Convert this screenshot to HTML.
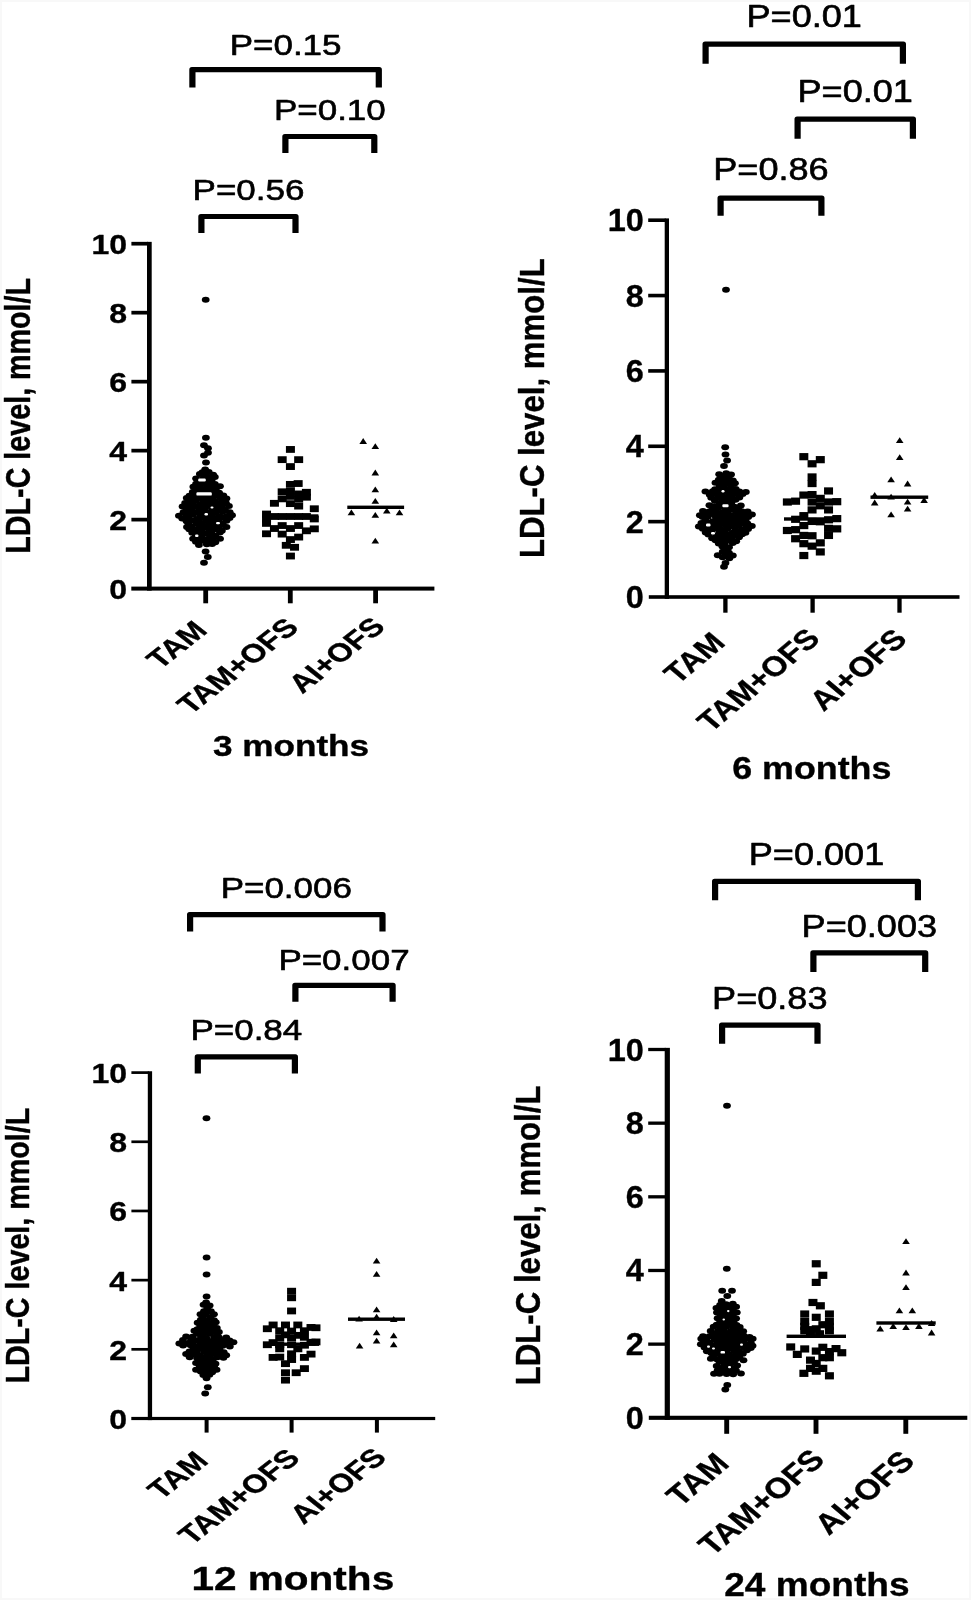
<!DOCTYPE html>
<html lang="en">
<head>
<meta charset="utf-8">
<title>LDL-C level by treatment group</title>
<style>
html,body{margin:0;padding:0;background:#fff;}
body{width:971px;height:1600px;overflow:hidden;position:relative;font-family:"Liberation Sans", sans-serif;}
svg{position:absolute;left:0;top:0;display:block;filter:blur(0.45px);}
svg text{font-family:"Liberation Sans", sans-serif;fill:#000;stroke:#000;stroke-linejoin:round;}
</style>
</head>
<body>
<svg width="971" height="1600" viewBox="0 0 971 1600" fill="#000">
<rect x="0" y="0" width="971" height="1600" fill="#fff"/>
<rect x="1" y="1" width="969" height="1598" fill="none" stroke="#f8f8f8" stroke-width="2"/>
<rect x="147" y="241.85" width="4.7" height="348.75"/>
<rect x="131.3" y="586.6" width="303.1" height="4"/>
<rect x="131.4" y="241.85" width="16.6" height="3.7"/>
<text transform="translate(127,254.2) scale(1.16,1)" font-size="27.6" font-weight="700" stroke-width="0.35" text-anchor="end">10</text>
<rect x="131.4" y="310.83" width="16.6" height="3.7"/>
<text transform="translate(127,323.18) scale(1.16,1)" font-size="27.6" font-weight="700" stroke-width="0.35" text-anchor="end">8</text>
<rect x="131.4" y="379.81" width="16.6" height="3.7"/>
<text transform="translate(127,392.16) scale(1.16,1)" font-size="27.6" font-weight="700" stroke-width="0.35" text-anchor="end">6</text>
<rect x="131.4" y="448.79" width="16.6" height="3.7"/>
<text transform="translate(127,461.14) scale(1.16,1)" font-size="27.6" font-weight="700" stroke-width="0.35" text-anchor="end">4</text>
<rect x="131.4" y="517.77" width="16.6" height="3.7"/>
<text transform="translate(127,530.12) scale(1.16,1)" font-size="27.6" font-weight="700" stroke-width="0.35" text-anchor="end">2</text>
<text transform="translate(127,599.1) scale(1.16,1)" font-size="27.6" font-weight="700" stroke-width="0.35" text-anchor="end">0</text>
<rect x="203.3" y="588.6" width="4.8" height="14.7"/>
<text transform="translate(208.8,631.8) scale(1.27,1) rotate(-45)" font-size="25.8" font-weight="700" stroke-width="0.35" text-anchor="end">TAM</text>
<rect x="287.9" y="588.6" width="4.8" height="14.7"/>
<text transform="translate(300.2,628.9) scale(1.27,1) rotate(-45)" font-size="25.8" font-weight="700" stroke-width="0.35" text-anchor="end">TAM+OFS</text>
<rect x="373.2" y="588.6" width="4.8" height="14.7"/>
<text transform="translate(386.6,628.2) scale(1.27,1) rotate(-45)" font-size="25.8" font-weight="700" stroke-width="0.35" text-anchor="end">AI+OFS</text>
<text transform="translate(29.8,415.8) scale(1.24,1) rotate(-90)" font-size="28.7" font-weight="700" stroke-width="0.35" text-anchor="middle">LDL-C level, mmol/L</text>
<text transform="translate(291,755.6) scale(1.18,1)" font-size="29.8" font-weight="700" stroke-width="0.35" text-anchor="middle">3 months</text>
<path d="M189.3 87.6 V69.7 Q189.3 67.1 191.9 67.1 H379.3 Q381.9 67.1 381.9 69.7 V87.6 H375.7 V72.3 H195.5 V87.6 Z"/>
<text transform="translate(285.6,54.5) scale(1.19,1)" font-size="29.4" stroke-width="0.6" text-anchor="middle">P=0.15</text>
<path d="M282.3 153 V136.5 Q282.3 133.9 284.9 133.9 H374.8 Q377.4 133.9 377.4 136.5 V153 H371.2 V139.1 H288.5 V153 Z"/>
<text transform="translate(329.85,120.3) scale(1.19,1)" font-size="29.4" stroke-width="0.6" text-anchor="middle">P=0.10</text>
<path d="M198.3 232.9 V216.5 Q198.3 213.9 200.9 213.9 H296 Q298.6 213.9 298.6 216.5 V232.9 H292.4 V219.1 H204.5 V232.9 Z"/>
<text transform="translate(248.45,200.1) scale(1.19,1)" font-size="29.4" stroke-width="0.6" text-anchor="middle">P=0.56</text>
<ellipse cx="205.17" cy="469.56" rx="3.9" ry="3"/>
<ellipse cx="208.71" cy="471.89" rx="3.9" ry="3"/>
<ellipse cx="202.5" cy="472.14" rx="3.9" ry="3"/>
<ellipse cx="205.09" cy="474.05" rx="3.9" ry="3"/>
<ellipse cx="213.17" cy="474.69" rx="3.9" ry="3"/>
<ellipse cx="199.82" cy="474" rx="3.9" ry="3"/>
<ellipse cx="209.64" cy="477.27" rx="3.9" ry="3"/>
<ellipse cx="203.49" cy="478.34" rx="3.9" ry="3"/>
<ellipse cx="214.86" cy="476.94" rx="3.9" ry="3"/>
<ellipse cx="196.08" cy="478.4" rx="3.9" ry="3"/>
<ellipse cx="205.33" cy="480.48" rx="3.9" ry="3"/>
<ellipse cx="211.56" cy="480.15" rx="3.9" ry="3"/>
<ellipse cx="199.18" cy="480.59" rx="3.9" ry="3"/>
<ellipse cx="208.66" cy="483.05" rx="3.9" ry="3"/>
<ellipse cx="202.52" cy="483.16" rx="3.9" ry="3"/>
<ellipse cx="214.84" cy="484.04" rx="3.9" ry="3"/>
<ellipse cx="196.11" cy="483.73" rx="3.9" ry="3"/>
<ellipse cx="206.89" cy="486.98" rx="3.9" ry="3"/>
<ellipse cx="211.74" cy="486.13" rx="3.9" ry="3"/>
<ellipse cx="199.74" cy="486.74" rx="3.9" ry="3"/>
<ellipse cx="219.97" cy="486.28" rx="3.9" ry="3"/>
<ellipse cx="193.36" cy="486.67" rx="3.9" ry="3"/>
<ellipse cx="209.38" cy="489.91" rx="3.9" ry="3"/>
<ellipse cx="203.29" cy="489.31" rx="3.9" ry="3"/>
<ellipse cx="215.98" cy="488.56" rx="3.9" ry="3"/>
<ellipse cx="195.49" cy="489.78" rx="3.9" ry="3"/>
<ellipse cx="205.25" cy="492.28" rx="3.9" ry="3"/>
<ellipse cx="212.91" cy="492.48" rx="3.9" ry="3"/>
<ellipse cx="199.05" cy="492.1" rx="3.9" ry="3"/>
<ellipse cx="219.12" cy="492.65" rx="3.9" ry="3"/>
<ellipse cx="192.74" cy="492.03" rx="3.9" ry="3"/>
<ellipse cx="208.26" cy="494.37" rx="3.9" ry="3"/>
<ellipse cx="203.01" cy="495.87" rx="3.9" ry="3"/>
<ellipse cx="215.99" cy="494.93" rx="3.9" ry="3"/>
<ellipse cx="195.34" cy="495.1" rx="3.9" ry="3"/>
<ellipse cx="223.36" cy="495.53" rx="3.9" ry="3"/>
<ellipse cx="189.48" cy="495.68" rx="3.9" ry="3"/>
<ellipse cx="205.93" cy="498.72" rx="3.9" ry="3"/>
<ellipse cx="212.66" cy="497.93" rx="3.9" ry="3"/>
<ellipse cx="198.84" cy="498.08" rx="3.9" ry="3"/>
<ellipse cx="220.01" cy="497.21" rx="3.9" ry="3"/>
<ellipse cx="193.27" cy="498.51" rx="3.9" ry="3"/>
<ellipse cx="226.47" cy="498.38" rx="3.9" ry="3"/>
<ellipse cx="186.72" cy="498.03" rx="3.9" ry="3"/>
<ellipse cx="209.05" cy="500.19" rx="3.9" ry="3"/>
<ellipse cx="203.34" cy="501.01" rx="3.9" ry="3"/>
<ellipse cx="215.2" cy="500.91" rx="3.9" ry="3"/>
<ellipse cx="195.97" cy="500.67" rx="3.9" ry="3"/>
<ellipse cx="222.09" cy="500.96" rx="3.9" ry="3"/>
<ellipse cx="189.65" cy="501.08" rx="3.9" ry="3"/>
<ellipse cx="204.96" cy="503.37" rx="3.9" ry="3"/>
<ellipse cx="211.85" cy="503.94" rx="3.9" ry="3"/>
<ellipse cx="200.02" cy="504.28" rx="3.9" ry="3"/>
<ellipse cx="219.69" cy="504.31" rx="3.9" ry="3"/>
<ellipse cx="192.21" cy="504.35" rx="3.9" ry="3"/>
<ellipse cx="226.05" cy="503.13" rx="3.9" ry="3"/>
<ellipse cx="185.13" cy="503.02" rx="3.9" ry="3"/>
<ellipse cx="208.7" cy="506.08" rx="3.9" ry="3"/>
<ellipse cx="202.85" cy="506.45" rx="3.9" ry="3"/>
<ellipse cx="214.94" cy="506.16" rx="3.9" ry="3"/>
<ellipse cx="196.05" cy="506.17" rx="3.9" ry="3"/>
<ellipse cx="221.95" cy="507.04" rx="3.9" ry="3"/>
<ellipse cx="189.31" cy="506.42" rx="3.9" ry="3"/>
<ellipse cx="228.95" cy="505.94" rx="3.9" ry="3"/>
<ellipse cx="182.57" cy="506.57" rx="3.9" ry="3"/>
<ellipse cx="205.12" cy="510.24" rx="3.9" ry="3"/>
<ellipse cx="212.52" cy="509.13" rx="3.9" ry="3"/>
<ellipse cx="199.51" cy="510.11" rx="3.9" ry="3"/>
<ellipse cx="218.14" cy="508.83" rx="3.9" ry="3"/>
<ellipse cx="191.99" cy="509.95" rx="3.9" ry="3"/>
<ellipse cx="225.02" cy="509.93" rx="3.9" ry="3"/>
<ellipse cx="186.46" cy="509.67" rx="3.9" ry="3"/>
<ellipse cx="210.15" cy="512.98" rx="3.9" ry="3"/>
<ellipse cx="202.63" cy="512.06" rx="3.9" ry="3"/>
<ellipse cx="216.1" cy="512.33" rx="3.9" ry="3"/>
<ellipse cx="196.15" cy="512.21" rx="3.9" ry="3"/>
<ellipse cx="222.66" cy="511.79" rx="3.9" ry="3"/>
<ellipse cx="189" cy="513.25" rx="3.9" ry="3"/>
<ellipse cx="229.75" cy="512.19" rx="3.9" ry="3"/>
<ellipse cx="183.52" cy="512.2" rx="3.9" ry="3"/>
<ellipse cx="206.39" cy="515.27" rx="3.9" ry="3"/>
<ellipse cx="212" cy="514.61" rx="3.9" ry="3"/>
<ellipse cx="200.06" cy="514.66" rx="3.9" ry="3"/>
<ellipse cx="219.74" cy="516.14" rx="3.9" ry="3"/>
<ellipse cx="192.84" cy="514.87" rx="3.9" ry="3"/>
<ellipse cx="226.44" cy="516.16" rx="3.9" ry="3"/>
<ellipse cx="186.51" cy="515.41" rx="3.9" ry="3"/>
<ellipse cx="232.06" cy="515.16" rx="3.9" ry="3"/>
<ellipse cx="178.91" cy="515.68" rx="3.9" ry="3"/>
<ellipse cx="208.59" cy="517.67" rx="3.9" ry="3"/>
<ellipse cx="202.93" cy="517.97" rx="3.9" ry="3"/>
<ellipse cx="215.8" cy="518.02" rx="3.9" ry="3"/>
<ellipse cx="196.74" cy="518.94" rx="3.9" ry="3"/>
<ellipse cx="221.44" cy="517.82" rx="3.9" ry="3"/>
<ellipse cx="189.06" cy="519.08" rx="3.9" ry="3"/>
<ellipse cx="229.57" cy="518.04" rx="3.9" ry="3"/>
<ellipse cx="182.23" cy="518.58" rx="3.9" ry="3"/>
<ellipse cx="206.76" cy="520.95" rx="3.9" ry="3"/>
<ellipse cx="213.26" cy="521.5" rx="3.9" ry="3"/>
<ellipse cx="199.27" cy="521.98" rx="3.9" ry="3"/>
<ellipse cx="218.57" cy="521.56" rx="3.9" ry="3"/>
<ellipse cx="191.87" cy="520.67" rx="3.9" ry="3"/>
<ellipse cx="226.52" cy="520.74" rx="3.9" ry="3"/>
<ellipse cx="186.62" cy="521.36" rx="3.9" ry="3"/>
<ellipse cx="208.94" cy="523.84" rx="3.9" ry="3"/>
<ellipse cx="202.18" cy="524.69" rx="3.9" ry="3"/>
<ellipse cx="216.01" cy="524.83" rx="3.9" ry="3"/>
<ellipse cx="196.77" cy="523.52" rx="3.9" ry="3"/>
<ellipse cx="222.5" cy="523.47" rx="3.9" ry="3"/>
<ellipse cx="188.48" cy="523.42" rx="3.9" ry="3"/>
<ellipse cx="206.48" cy="527.53" rx="3.9" ry="3"/>
<ellipse cx="212.18" cy="527.18" rx="3.9" ry="3"/>
<ellipse cx="199.86" cy="526.8" rx="3.9" ry="3"/>
<ellipse cx="219.24" cy="526.56" rx="3.9" ry="3"/>
<ellipse cx="191.86" cy="526.63" rx="3.9" ry="3"/>
<ellipse cx="226.48" cy="527.1" rx="3.9" ry="3"/>
<ellipse cx="186.95" cy="526.93" rx="3.9" ry="3"/>
<ellipse cx="209.77" cy="530.42" rx="3.9" ry="3"/>
<ellipse cx="201.62" cy="530.17" rx="3.9" ry="3"/>
<ellipse cx="214.98" cy="529.28" rx="3.9" ry="3"/>
<ellipse cx="196.77" cy="529.16" rx="3.9" ry="3"/>
<ellipse cx="221.88" cy="530.68" rx="3.9" ry="3"/>
<ellipse cx="189.24" cy="529.28" rx="3.9" ry="3"/>
<ellipse cx="205.38" cy="533.19" rx="3.9" ry="3"/>
<ellipse cx="211.71" cy="533.46" rx="3.9" ry="3"/>
<ellipse cx="199.06" cy="533.55" rx="3.9" ry="3"/>
<ellipse cx="219.92" cy="532.47" rx="3.9" ry="3"/>
<ellipse cx="192.21" cy="532.76" rx="3.9" ry="3"/>
<ellipse cx="209.5" cy="534.96" rx="3.9" ry="3"/>
<ellipse cx="201.62" cy="536.47" rx="3.9" ry="3"/>
<ellipse cx="215.39" cy="535.85" rx="3.9" ry="3"/>
<ellipse cx="195.9" cy="535.4" rx="3.9" ry="3"/>
<ellipse cx="206.73" cy="539.35" rx="3.9" ry="3"/>
<ellipse cx="213.44" cy="537.98" rx="3.9" ry="3"/>
<ellipse cx="198.73" cy="538.79" rx="3.9" ry="3"/>
<ellipse cx="220.06" cy="538.67" rx="3.9" ry="3"/>
<ellipse cx="193.08" cy="538.86" rx="3.9" ry="3"/>
<ellipse cx="209.28" cy="541.19" rx="3.9" ry="3"/>
<ellipse cx="202.09" cy="540.83" rx="3.9" ry="3"/>
<ellipse cx="215.36" cy="542.27" rx="3.9" ry="3"/>
<ellipse cx="195.9" cy="541.74" rx="3.9" ry="3"/>
<ellipse cx="206.78" cy="544.22" rx="3.9" ry="3"/>
<ellipse cx="212.11" cy="544.12" rx="3.9" ry="3"/>
<ellipse cx="198.93" cy="544.96" rx="3.9" ry="3"/>
<ellipse cx="205.7" cy="299.8" rx="3.9" ry="3"/>
<ellipse cx="205.9" cy="437.7" rx="3.9" ry="3"/>
<ellipse cx="204" cy="445.2" rx="3.9" ry="3"/>
<ellipse cx="208" cy="448.2" rx="3.9" ry="3"/>
<ellipse cx="208" cy="452.8" rx="3.9" ry="3"/>
<ellipse cx="204" cy="455.4" rx="3.9" ry="3"/>
<ellipse cx="206" cy="462.5" rx="3.9" ry="3"/>
<ellipse cx="205.6" cy="551.5" rx="3.9" ry="3"/>
<ellipse cx="207.8" cy="557.1" rx="3.9" ry="3"/>
<ellipse cx="204" cy="562.8" rx="3.9" ry="3"/>
<rect x="198.2" y="478.6" width="7.6" height="2.8" rx="1.2" fill="#fff"/>
<rect x="196.4" y="492.3" width="15.4" height="3.3" rx="1.2" fill="#fff"/>
<rect x="210.5" y="506.5" width="3" height="2" rx="1.2" fill="#fff"/>
<rect x="204.5" y="513" width="3.5" height="2.5" rx="1.2" fill="#fff"/>
<rect x="216" y="522" width="4" height="2.3" rx="1.2" fill="#fff"/>
<rect x="195" y="534.5" width="3.5" height="2.5" rx="1.2" fill="#fff"/>
<rect x="285.92" y="446.04" width="9" height="6.8"/>
<rect x="277.68" y="456.25" width="9" height="6.8"/>
<rect x="294.16" y="456.25" width="9" height="6.8"/>
<rect x="285.92" y="463.17" width="9" height="6.8"/>
<rect x="285.92" y="480.97" width="9" height="6.8"/>
<rect x="293.66" y="480.14" width="9" height="6.8"/>
<rect x="277.68" y="488.38" width="9" height="6.8"/>
<rect x="301.9" y="488.87" width="9" height="6.8"/>
<rect x="285.92" y="487.89" width="9" height="6.8"/>
<rect x="294.16" y="490.52" width="9" height="6.8"/>
<rect x="285.92" y="492.99" width="9" height="6.8"/>
<rect x="301.9" y="493.82" width="9" height="6.8"/>
<rect x="277.68" y="495.46" width="9" height="6.8"/>
<rect x="294.16" y="495.79" width="9" height="6.8"/>
<rect x="269.94" y="499.91" width="9" height="6.8"/>
<rect x="285.92" y="500.24" width="9" height="6.8"/>
<rect x="294.16" y="502.71" width="9" height="6.8"/>
<rect x="309.81" y="505.35" width="9" height="6.8"/>
<rect x="262.03" y="510.62" width="9" height="6.8"/>
<rect x="269.94" y="513.09" width="9" height="6.8"/>
<rect x="277.68" y="513.09" width="9" height="6.8"/>
<rect x="285.92" y="513.09" width="9" height="6.8"/>
<rect x="294.16" y="513.09" width="9" height="6.8"/>
<rect x="301.9" y="513.09" width="9" height="6.8"/>
<rect x="262.03" y="515.89" width="9" height="6.8"/>
<rect x="309.81" y="515.56" width="9" height="6.8"/>
<rect x="262.03" y="520.01" width="9" height="6.8"/>
<rect x="277.68" y="522.15" width="9" height="6.8"/>
<rect x="294.16" y="522.15" width="9" height="6.8"/>
<rect x="269.94" y="525.12" width="9" height="6.8"/>
<rect x="285.92" y="525.12" width="9" height="6.8"/>
<rect x="309.81" y="525.45" width="9" height="6.8"/>
<rect x="301.9" y="527.42" width="9" height="6.8"/>
<rect x="262.03" y="530.39" width="9" height="6.8"/>
<rect x="277.68" y="530.72" width="9" height="6.8"/>
<rect x="294.16" y="533.68" width="9" height="6.8"/>
<rect x="285.92" y="536.16" width="9" height="6.8"/>
<rect x="281.8" y="541.92" width="9" height="6.8"/>
<rect x="290.04" y="543.9" width="9" height="6.8"/>
<rect x="285.92" y="552.63" width="9" height="6.8"/>
<rect x="262.4" y="514.3" width="56" height="3.4"/>
<path d="M363.2 438.1L367 443.9L359.4 443.9Z"/>
<path d="M375.3 443.2L379.1 449L371.5 449Z"/>
<path d="M375.3 469.6L379.1 475.4L371.5 475.4Z"/>
<path d="M375.3 486.4L379.1 492.2L371.5 492.2Z"/>
<path d="M375.3 497.9L379.1 503.7L371.5 503.7Z"/>
<path d="M351.4 509.5L355.2 515.3L347.6 515.3Z"/>
<path d="M375.3 511.9L379.1 517.7L371.5 517.7Z"/>
<path d="M386.8 507.8L390.6 513.6L383 513.6Z"/>
<path d="M399.5 509.5L403.3 515.3L395.7 515.3Z"/>
<path d="M375.3 537.8L379.1 543.6L371.5 543.6Z"/>
<rect x="347.3" y="505.6" width="56.8" height="3.4"/>
<rect x="664.7" y="218.4" width="4.3" height="380.4"/>
<rect x="648.8" y="595.2" width="310.7" height="3.6"/>
<rect x="648.2" y="218.4" width="17.5" height="3.6"/>
<text transform="translate(643.9,231.2) scale(1.04,1)" font-size="31.2" font-weight="700" stroke-width="0.35" text-anchor="end">10</text>
<rect x="648.2" y="293.76" width="17.5" height="3.6"/>
<text transform="translate(643.9,306.56) scale(1.04,1)" font-size="31.2" font-weight="700" stroke-width="0.35" text-anchor="end">8</text>
<rect x="648.2" y="369.12" width="17.5" height="3.6"/>
<text transform="translate(643.9,381.92) scale(1.04,1)" font-size="31.2" font-weight="700" stroke-width="0.35" text-anchor="end">6</text>
<rect x="648.2" y="444.48" width="17.5" height="3.6"/>
<text transform="translate(643.9,457.28) scale(1.04,1)" font-size="31.2" font-weight="700" stroke-width="0.35" text-anchor="end">4</text>
<rect x="648.2" y="519.84" width="17.5" height="3.6"/>
<text transform="translate(643.9,532.64) scale(1.04,1)" font-size="31.2" font-weight="700" stroke-width="0.35" text-anchor="end">2</text>
<text transform="translate(643.9,608) scale(1.04,1)" font-size="31.2" font-weight="700" stroke-width="0.35" text-anchor="end">0</text>
<rect x="723.25" y="597" width="4.3" height="15.7"/>
<text transform="translate(726.8,644) scale(1.19,1) rotate(-45)" font-size="27.8" font-weight="700" stroke-width="0.35" text-anchor="end">TAM</text>
<rect x="810.45" y="597" width="4.3" height="15.7"/>
<text transform="translate(821.6,640.1) scale(1.19,1) rotate(-45)" font-size="27.8" font-weight="700" stroke-width="0.35" text-anchor="end">TAM+OFS</text>
<rect x="897.35" y="597" width="4.3" height="15.7"/>
<text transform="translate(908.5,640.7) scale(1.19,1) rotate(-45)" font-size="27.8" font-weight="700" stroke-width="0.35" text-anchor="end">AI+OFS</text>
<text transform="translate(543.5,408.2) scale(1.14,1) rotate(-90)" font-size="31.2" font-weight="700" stroke-width="0.35" text-anchor="middle">LDL-C level, mmol/L</text>
<text transform="translate(811.8,779) scale(1.17,1)" font-size="30.6" font-weight="700" stroke-width="0.35" text-anchor="middle">6 months</text>
<path d="M702.5 63.8 V44.1 Q702.5 41.5 705.1 41.5 H903.4 Q906 41.5 906 44.1 V63.8 H899.8 V46.7 H708.7 V63.8 Z"/>
<text transform="translate(804.25,27) scale(1.18,1)" font-size="30.6" stroke-width="0.6" text-anchor="middle">P=0.01</text>
<path d="M794.5 138.8 V119.1 Q794.5 116.5 797.1 116.5 H913.4 Q916 116.5 916 119.1 V138.8 H909.8 V121.7 H800.7 V138.8 Z"/>
<text transform="translate(855.25,102) scale(1.18,1)" font-size="30.6" stroke-width="0.6" text-anchor="middle">P=0.01</text>
<path d="M717.5 215.8 V198.1 Q717.5 195.5 720.1 195.5 H821.9 Q824.5 195.5 824.5 198.1 V215.8 H818.3 V200.7 H723.7 V215.8 Z"/>
<text transform="translate(771,180.2) scale(1.18,1)" font-size="30.6" stroke-width="0.6" text-anchor="middle">P=0.86</text>
<ellipse cx="726.2" cy="473.29" rx="3.9" ry="3"/>
<ellipse cx="731.07" cy="474.54" rx="3.9" ry="3"/>
<ellipse cx="719.17" cy="474.27" rx="3.9" ry="3"/>
<ellipse cx="728.81" cy="477.07" rx="3.9" ry="3"/>
<ellipse cx="722.16" cy="476.35" rx="3.9" ry="3"/>
<ellipse cx="725.09" cy="480.16" rx="3.9" ry="3"/>
<ellipse cx="732.89" cy="480.52" rx="3.9" ry="3"/>
<ellipse cx="718.79" cy="479.71" rx="3.9" ry="3"/>
<ellipse cx="727.67" cy="481.94" rx="3.9" ry="3"/>
<ellipse cx="721.93" cy="482.41" rx="3.9" ry="3"/>
<ellipse cx="734.96" cy="483.33" rx="3.9" ry="3"/>
<ellipse cx="715.45" cy="482.8" rx="3.9" ry="3"/>
<ellipse cx="724.35" cy="485.32" rx="3.9" ry="3"/>
<ellipse cx="731.17" cy="485.62" rx="3.9" ry="3"/>
<ellipse cx="719.7" cy="485.88" rx="3.9" ry="3"/>
<ellipse cx="729.39" cy="488.97" rx="3.9" ry="3"/>
<ellipse cx="722.47" cy="489.15" rx="3.9" ry="3"/>
<ellipse cx="735.73" cy="488.96" rx="3.9" ry="3"/>
<ellipse cx="715.11" cy="489.27" rx="3.9" ry="3"/>
<ellipse cx="724.62" cy="491.81" rx="3.9" ry="3"/>
<ellipse cx="732.33" cy="491.34" rx="3.9" ry="3"/>
<ellipse cx="718.76" cy="491.38" rx="3.9" ry="3"/>
<ellipse cx="739.35" cy="491.4" rx="3.9" ry="3"/>
<ellipse cx="712.76" cy="491.17" rx="3.9" ry="3"/>
<ellipse cx="745.87" cy="492.04" rx="3.9" ry="3"/>
<ellipse cx="705.42" cy="491.51" rx="3.9" ry="3"/>
<ellipse cx="729.05" cy="494.28" rx="3.9" ry="3"/>
<ellipse cx="721.44" cy="494.02" rx="3.9" ry="3"/>
<ellipse cx="735.6" cy="493.77" rx="3.9" ry="3"/>
<ellipse cx="716.22" cy="493.93" rx="3.9" ry="3"/>
<ellipse cx="742.62" cy="494" rx="3.9" ry="3"/>
<ellipse cx="709.71" cy="494.63" rx="3.9" ry="3"/>
<ellipse cx="725.34" cy="497.44" rx="3.9" ry="3"/>
<ellipse cx="732.08" cy="496.9" rx="3.9" ry="3"/>
<ellipse cx="718.12" cy="497.22" rx="3.9" ry="3"/>
<ellipse cx="739.37" cy="497.4" rx="3.9" ry="3"/>
<ellipse cx="711.25" cy="497.71" rx="3.9" ry="3"/>
<ellipse cx="729.42" cy="499.61" rx="3.9" ry="3"/>
<ellipse cx="722.49" cy="499.39" rx="3.9" ry="3"/>
<ellipse cx="735.51" cy="499.74" rx="3.9" ry="3"/>
<ellipse cx="714.85" cy="500.7" rx="3.9" ry="3"/>
<ellipse cx="725.34" cy="503.57" rx="3.9" ry="3"/>
<ellipse cx="731.39" cy="502.54" rx="3.9" ry="3"/>
<ellipse cx="719.46" cy="502.88" rx="3.9" ry="3"/>
<ellipse cx="727.66" cy="505.68" rx="3.9" ry="3"/>
<ellipse cx="721.34" cy="506.18" rx="3.9" ry="3"/>
<ellipse cx="734.37" cy="506.63" rx="3.9" ry="3"/>
<ellipse cx="714.45" cy="506.27" rx="3.9" ry="3"/>
<ellipse cx="740.84" cy="505.51" rx="3.9" ry="3"/>
<ellipse cx="709.43" cy="505.35" rx="3.9" ry="3"/>
<ellipse cx="725.68" cy="508.62" rx="3.9" ry="3"/>
<ellipse cx="730.99" cy="509.58" rx="3.9" ry="3"/>
<ellipse cx="718" cy="508.06" rx="3.9" ry="3"/>
<ellipse cx="738.19" cy="508.98" rx="3.9" ry="3"/>
<ellipse cx="712.58" cy="508.18" rx="3.9" ry="3"/>
<ellipse cx="727.66" cy="511.62" rx="3.9" ry="3"/>
<ellipse cx="722.53" cy="512.08" rx="3.9" ry="3"/>
<ellipse cx="736" cy="512.11" rx="3.9" ry="3"/>
<ellipse cx="716.12" cy="512.03" rx="3.9" ry="3"/>
<ellipse cx="741.75" cy="511.26" rx="3.9" ry="3"/>
<ellipse cx="709.12" cy="511.41" rx="3.9" ry="3"/>
<ellipse cx="747.6" cy="511.62" rx="3.9" ry="3"/>
<ellipse cx="702.95" cy="511.1" rx="3.9" ry="3"/>
<ellipse cx="725.09" cy="514.62" rx="3.9" ry="3"/>
<ellipse cx="731.19" cy="515.34" rx="3.9" ry="3"/>
<ellipse cx="718.22" cy="514.77" rx="3.9" ry="3"/>
<ellipse cx="738.34" cy="513.83" rx="3.9" ry="3"/>
<ellipse cx="712.22" cy="514.02" rx="3.9" ry="3"/>
<ellipse cx="744.21" cy="513.85" rx="3.9" ry="3"/>
<ellipse cx="704.82" cy="513.95" rx="3.9" ry="3"/>
<ellipse cx="751.97" cy="514.61" rx="3.9" ry="3"/>
<ellipse cx="699.87" cy="515.29" rx="3.9" ry="3"/>
<ellipse cx="728.06" cy="517.41" rx="3.9" ry="3"/>
<ellipse cx="721.5" cy="517.65" rx="3.9" ry="3"/>
<ellipse cx="735.45" cy="517.98" rx="3.9" ry="3"/>
<ellipse cx="715.82" cy="517.11" rx="3.9" ry="3"/>
<ellipse cx="741.65" cy="517.54" rx="3.9" ry="3"/>
<ellipse cx="707.81" cy="516.76" rx="3.9" ry="3"/>
<ellipse cx="748.22" cy="516.88" rx="3.9" ry="3"/>
<ellipse cx="702.65" cy="517.09" rx="3.9" ry="3"/>
<ellipse cx="724.66" cy="519.97" rx="3.9" ry="3"/>
<ellipse cx="731.33" cy="520.43" rx="3.9" ry="3"/>
<ellipse cx="718.63" cy="520.1" rx="3.9" ry="3"/>
<ellipse cx="738.78" cy="519.94" rx="3.9" ry="3"/>
<ellipse cx="712.91" cy="521.14" rx="3.9" ry="3"/>
<ellipse cx="745.56" cy="520.29" rx="3.9" ry="3"/>
<ellipse cx="705.52" cy="520.53" rx="3.9" ry="3"/>
<ellipse cx="728.44" cy="523.34" rx="3.9" ry="3"/>
<ellipse cx="721.36" cy="522.65" rx="3.9" ry="3"/>
<ellipse cx="735.81" cy="523.09" rx="3.9" ry="3"/>
<ellipse cx="715.44" cy="523.97" rx="3.9" ry="3"/>
<ellipse cx="742.02" cy="522.96" rx="3.9" ry="3"/>
<ellipse cx="709.77" cy="523.1" rx="3.9" ry="3"/>
<ellipse cx="747.44" cy="523.6" rx="3.9" ry="3"/>
<ellipse cx="701.4" cy="522.99" rx="3.9" ry="3"/>
<ellipse cx="725.65" cy="525.43" rx="3.9" ry="3"/>
<ellipse cx="731.8" cy="526.06" rx="3.9" ry="3"/>
<ellipse cx="718.67" cy="525.73" rx="3.9" ry="3"/>
<ellipse cx="738.68" cy="525.52" rx="3.9" ry="3"/>
<ellipse cx="711.67" cy="526" rx="3.9" ry="3"/>
<ellipse cx="745.97" cy="525.52" rx="3.9" ry="3"/>
<ellipse cx="706.01" cy="525.71" rx="3.9" ry="3"/>
<ellipse cx="751.84" cy="526.03" rx="3.9" ry="3"/>
<ellipse cx="698.83" cy="526.61" rx="3.9" ry="3"/>
<ellipse cx="727.84" cy="528.49" rx="3.9" ry="3"/>
<ellipse cx="721.16" cy="529.66" rx="3.9" ry="3"/>
<ellipse cx="735.48" cy="529.84" rx="3.9" ry="3"/>
<ellipse cx="715.79" cy="528.34" rx="3.9" ry="3"/>
<ellipse cx="742.12" cy="529.54" rx="3.9" ry="3"/>
<ellipse cx="709.25" cy="529.1" rx="3.9" ry="3"/>
<ellipse cx="748.12" cy="529.03" rx="3.9" ry="3"/>
<ellipse cx="702.8" cy="528.73" rx="3.9" ry="3"/>
<ellipse cx="725.26" cy="532.73" rx="3.9" ry="3"/>
<ellipse cx="732.51" cy="532.69" rx="3.9" ry="3"/>
<ellipse cx="719.37" cy="531.67" rx="3.9" ry="3"/>
<ellipse cx="737.96" cy="531.98" rx="3.9" ry="3"/>
<ellipse cx="711.62" cy="531.88" rx="3.9" ry="3"/>
<ellipse cx="745.46" cy="532.67" rx="3.9" ry="3"/>
<ellipse cx="705.67" cy="532.51" rx="3.9" ry="3"/>
<ellipse cx="728.31" cy="535.7" rx="3.9" ry="3"/>
<ellipse cx="721.29" cy="534.77" rx="3.9" ry="3"/>
<ellipse cx="734.33" cy="534.24" rx="3.9" ry="3"/>
<ellipse cx="716.19" cy="535.68" rx="3.9" ry="3"/>
<ellipse cx="742.1" cy="534.31" rx="3.9" ry="3"/>
<ellipse cx="708.39" cy="534.47" rx="3.9" ry="3"/>
<ellipse cx="725.66" cy="537.7" rx="3.9" ry="3"/>
<ellipse cx="731.95" cy="537.18" rx="3.9" ry="3"/>
<ellipse cx="718.78" cy="538.52" rx="3.9" ry="3"/>
<ellipse cx="739.01" cy="537.15" rx="3.9" ry="3"/>
<ellipse cx="712.13" cy="538.14" rx="3.9" ry="3"/>
<ellipse cx="729.39" cy="540.64" rx="3.9" ry="3"/>
<ellipse cx="722.41" cy="540.55" rx="3.9" ry="3"/>
<ellipse cx="736.19" cy="541.15" rx="3.9" ry="3"/>
<ellipse cx="715.55" cy="540.13" rx="3.9" ry="3"/>
<ellipse cx="724.36" cy="543.75" rx="3.9" ry="3"/>
<ellipse cx="732.66" cy="543.09" rx="3.9" ry="3"/>
<ellipse cx="718.72" cy="543.57" rx="3.9" ry="3"/>
<ellipse cx="729.02" cy="547.2" rx="3.9" ry="3"/>
<ellipse cx="722.41" cy="546.46" rx="3.9" ry="3"/>
<ellipse cx="726.22" cy="549.13" rx="3.9" ry="3"/>
<ellipse cx="728.92" cy="552.72" rx="3.9" ry="3"/>
<ellipse cx="722.7" cy="551.86" rx="3.9" ry="3"/>
<ellipse cx="725.11" cy="555.47" rx="3.9" ry="3"/>
<ellipse cx="732.85" cy="555.42" rx="3.9" ry="3"/>
<ellipse cx="717.72" cy="555.14" rx="3.9" ry="3"/>
<ellipse cx="729.37" cy="558.34" rx="3.9" ry="3"/>
<ellipse cx="722.63" cy="557.33" rx="3.9" ry="3"/>
<ellipse cx="726" cy="289.8" rx="3.9" ry="3"/>
<ellipse cx="725.2" cy="447.3" rx="3.9" ry="3"/>
<ellipse cx="725.5" cy="454.4" rx="3.9" ry="3"/>
<ellipse cx="727.1" cy="460.5" rx="3.9" ry="3"/>
<ellipse cx="724" cy="466.1" rx="3.9" ry="3"/>
<ellipse cx="725.5" cy="563.1" rx="3.9" ry="3"/>
<ellipse cx="724" cy="566.8" rx="3.9" ry="3"/>
<rect x="722.3" y="504.2" width="6.3" height="3" rx="1.2" fill="#fff"/>
<rect x="721.5" y="490" width="3" height="2.4" rx="1.2" fill="#fff"/>
<rect x="706" y="523.5" width="4.5" height="3" rx="1.2" fill="#fff"/>
<rect x="711" y="532" width="4" height="2.5" rx="1.2" fill="#fff"/>
<rect x="799.33" y="453.08" width="9" height="7.21"/>
<rect x="815.8" y="456.05" width="9" height="7.21"/>
<rect x="807.57" y="460.17" width="9" height="7.21"/>
<rect x="807.57" y="473.35" width="9" height="7.21"/>
<rect x="807.57" y="479.94" width="9" height="7.21"/>
<rect x="824.04" y="487.35" width="9" height="7.21"/>
<rect x="799.33" y="491.47" width="9" height="7.21"/>
<rect x="807.57" y="490.98" width="9" height="7.21"/>
<rect x="815.8" y="494.77" width="9" height="7.21"/>
<rect x="782.86" y="498.39" width="9" height="7.21"/>
<rect x="791.09" y="497.57" width="9" height="7.21"/>
<rect x="807.57" y="498.39" width="9" height="7.21"/>
<rect x="824.04" y="498.39" width="9" height="7.21"/>
<rect x="832.28" y="498.06" width="9" height="7.21"/>
<rect x="815.8" y="502.18" width="9" height="7.21"/>
<rect x="807.57" y="506.3" width="9" height="7.21"/>
<rect x="824.04" y="506.3" width="9" height="7.21"/>
<rect x="799.33" y="512.06" width="9" height="7.21"/>
<rect x="791.09" y="515.69" width="9" height="7.21"/>
<rect x="832.28" y="515.03" width="9" height="7.21"/>
<rect x="824.04" y="516.18" width="9" height="7.21"/>
<rect x="807.57" y="517.83" width="9" height="7.21"/>
<rect x="815.8" y="518.16" width="9" height="7.21"/>
<rect x="799.33" y="521.95" width="9" height="7.21"/>
<rect x="782.86" y="526.89" width="9" height="7.21"/>
<rect x="791.09" y="526.07" width="9" height="7.21"/>
<rect x="832.28" y="525.24" width="9" height="7.21"/>
<rect x="824.04" y="524.75" width="9" height="7.21"/>
<rect x="824.04" y="531.83" width="9" height="7.21"/>
<rect x="799.33" y="531.83" width="9" height="7.21"/>
<rect x="807.57" y="532.16" width="9" height="7.21"/>
<rect x="791.09" y="535.13" width="9" height="7.21"/>
<rect x="799.33" y="540.07" width="9" height="7.21"/>
<rect x="815.8" y="539.25" width="9" height="7.21"/>
<rect x="807.57" y="542.54" width="9" height="7.21"/>
<rect x="815.8" y="548.31" width="9" height="7.21"/>
<rect x="799.33" y="551.93" width="9" height="7.21"/>
<rect x="784" y="517.3" width="57" height="3.4"/>
<path d="M899.7 437.3L903.5 443.1L895.9 443.1Z"/>
<path d="M899.7 454.3L903.5 460.1L895.9 460.1Z"/>
<path d="M891.1 476.5L894.9 482.3L887.3 482.3Z"/>
<path d="M907.6 480.6L911.4 486.4L903.8 486.4Z"/>
<path d="M874.7 499.6L878.5 505.4L870.9 505.4Z"/>
<path d="M874.7 491.9L878.5 497.7L870.9 497.7Z"/>
<path d="M891.1 493.8L894.9 499.6L887.3 499.6Z"/>
<path d="M907.6 498.8L911.4 504.6L903.8 504.6Z"/>
<path d="M907.6 505.8L911.4 511.6L903.8 511.6Z"/>
<path d="M891.1 511.4L894.9 517.2L887.3 517.2Z"/>
<path d="M924.1 497.1L927.9 502.9L920.3 502.9Z"/>
<rect x="870.5" y="495.5" width="57.7" height="3.4"/>
<rect x="147.8" y="1071.25" width="4.3" height="348.85"/>
<rect x="131.3" y="1416.9" width="303.9" height="3.2"/>
<rect x="131.4" y="1071.25" width="17.4" height="2.7"/>
<text transform="translate(127,1083.1) scale(1.16,1)" font-size="27.6" font-weight="700" stroke-width="0.35" text-anchor="end">10</text>
<rect x="131.4" y="1140.43" width="17.4" height="2.7"/>
<text transform="translate(127,1152.28) scale(1.16,1)" font-size="27.6" font-weight="700" stroke-width="0.35" text-anchor="end">8</text>
<rect x="131.4" y="1209.61" width="17.4" height="2.7"/>
<text transform="translate(127,1221.46) scale(1.16,1)" font-size="27.6" font-weight="700" stroke-width="0.35" text-anchor="end">6</text>
<rect x="131.4" y="1278.79" width="17.4" height="2.7"/>
<text transform="translate(127,1290.64) scale(1.16,1)" font-size="27.6" font-weight="700" stroke-width="0.35" text-anchor="end">4</text>
<rect x="131.4" y="1347.97" width="17.4" height="2.7"/>
<text transform="translate(127,1359.82) scale(1.16,1)" font-size="27.6" font-weight="700" stroke-width="0.35" text-anchor="end">2</text>
<text transform="translate(127,1429) scale(1.16,1)" font-size="27.6" font-weight="700" stroke-width="0.35" text-anchor="end">0</text>
<rect x="204.6" y="1418.5" width="4" height="14.1"/>
<text transform="translate(209.7,1462.4) scale(1.27,1) rotate(-45)" font-size="25.8" font-weight="700" stroke-width="0.35" text-anchor="end">TAM</text>
<rect x="289.6" y="1418.5" width="4" height="14.1"/>
<text transform="translate(301.5,1459.5) scale(1.27,1) rotate(-45)" font-size="25.8" font-weight="700" stroke-width="0.35" text-anchor="end">TAM+OFS</text>
<rect x="374.9" y="1418.5" width="4" height="14.1"/>
<text transform="translate(387.9,1458.8) scale(1.27,1) rotate(-45)" font-size="25.8" font-weight="700" stroke-width="0.35" text-anchor="end">AI+OFS</text>
<text transform="translate(28.5,1245.6) scale(1.18,1) rotate(-90)" font-size="28.7" font-weight="700" stroke-width="0.35" text-anchor="middle">LDL-C level, mmol/L</text>
<text transform="translate(292.8,1589.7) scale(1.2,1)" font-size="33.8" font-weight="700" stroke-width="0.35" text-anchor="middle">12 months</text>
<path d="M187 931.4 V914.7 Q187 912.1 189.6 912.1 H383 Q385.6 912.1 385.6 914.7 V931.4 H379.4 V917.3 H193.2 V931.4 Z"/>
<text transform="translate(286.3,898.3) scale(1.19,1)" font-size="29.4" stroke-width="0.6" text-anchor="middle">P=0.006</text>
<path d="M292.3 1001.8 V985.3 Q292.3 982.7 294.9 982.7 H393.1 Q395.7 982.7 395.7 985.3 V1001.8 H389.5 V987.9 H298.5 V1001.8 Z"/>
<text transform="translate(344,969.6) scale(1.19,1)" font-size="29.4" stroke-width="0.6" text-anchor="middle">P=0.007</text>
<path d="M194.7 1073.6 V1056.9 Q194.7 1054.3 197.3 1054.3 H295.4 Q298 1054.3 298 1056.9 V1073.6 H291.8 V1059.5 H200.9 V1073.6 Z"/>
<text transform="translate(246.35,1040.4) scale(1.19,1)" font-size="29.4" stroke-width="0.6" text-anchor="middle">P=0.84</text>
<ellipse cx="206.08" cy="1302.57" rx="3.9" ry="3"/>
<ellipse cx="209.64" cy="1305.57" rx="3.9" ry="3"/>
<ellipse cx="203.55" cy="1304.7" rx="3.9" ry="3"/>
<ellipse cx="207.27" cy="1307.91" rx="3.9" ry="3"/>
<ellipse cx="210.89" cy="1311.15" rx="3.9" ry="3"/>
<ellipse cx="203.97" cy="1311.16" rx="3.9" ry="3"/>
<ellipse cx="205.9" cy="1314.32" rx="3.9" ry="3"/>
<ellipse cx="213.94" cy="1314.14" rx="3.9" ry="3"/>
<ellipse cx="200.48" cy="1314.37" rx="3.9" ry="3"/>
<ellipse cx="210.42" cy="1317.15" rx="3.9" ry="3"/>
<ellipse cx="202.9" cy="1316.25" rx="3.9" ry="3"/>
<ellipse cx="206.55" cy="1320.25" rx="3.9" ry="3"/>
<ellipse cx="213.96" cy="1320.24" rx="3.9" ry="3"/>
<ellipse cx="200.84" cy="1319.73" rx="3.9" ry="3"/>
<ellipse cx="209.79" cy="1323.5" rx="3.9" ry="3"/>
<ellipse cx="204.06" cy="1322.16" rx="3.9" ry="3"/>
<ellipse cx="215.77" cy="1322.35" rx="3.9" ry="3"/>
<ellipse cx="197.63" cy="1322.7" rx="3.9" ry="3"/>
<ellipse cx="206.2" cy="1325.71" rx="3.9" ry="3"/>
<ellipse cx="212.97" cy="1325.46" rx="3.9" ry="3"/>
<ellipse cx="200.17" cy="1325.83" rx="3.9" ry="3"/>
<ellipse cx="210.26" cy="1329.29" rx="3.9" ry="3"/>
<ellipse cx="204.01" cy="1329.39" rx="3.9" ry="3"/>
<ellipse cx="216.84" cy="1328.06" rx="3.9" ry="3"/>
<ellipse cx="197.42" cy="1329.34" rx="3.9" ry="3"/>
<ellipse cx="206.74" cy="1331.84" rx="3.9" ry="3"/>
<ellipse cx="212.62" cy="1332.03" rx="3.9" ry="3"/>
<ellipse cx="200.15" cy="1331.16" rx="3.9" ry="3"/>
<ellipse cx="218.93" cy="1332.07" rx="3.9" ry="3"/>
<ellipse cx="194.38" cy="1330.84" rx="3.9" ry="3"/>
<ellipse cx="209.72" cy="1333.84" rx="3.9" ry="3"/>
<ellipse cx="202.89" cy="1334.83" rx="3.9" ry="3"/>
<ellipse cx="217.25" cy="1333.67" rx="3.9" ry="3"/>
<ellipse cx="196.93" cy="1333.67" rx="3.9" ry="3"/>
<ellipse cx="206.26" cy="1337.91" rx="3.9" ry="3"/>
<ellipse cx="214.16" cy="1337.31" rx="3.9" ry="3"/>
<ellipse cx="201" cy="1337" rx="3.9" ry="3"/>
<ellipse cx="218.95" cy="1337.46" rx="3.9" ry="3"/>
<ellipse cx="192.46" cy="1336.82" rx="3.9" ry="3"/>
<ellipse cx="226.22" cy="1337.48" rx="3.9" ry="3"/>
<ellipse cx="186.11" cy="1336.57" rx="3.9" ry="3"/>
<ellipse cx="209.53" cy="1340.93" rx="3.9" ry="3"/>
<ellipse cx="204.09" cy="1340" rx="3.9" ry="3"/>
<ellipse cx="216.42" cy="1340.23" rx="3.9" ry="3"/>
<ellipse cx="196.99" cy="1340.35" rx="3.9" ry="3"/>
<ellipse cx="223.22" cy="1340.39" rx="3.9" ry="3"/>
<ellipse cx="190.98" cy="1340.21" rx="3.9" ry="3"/>
<ellipse cx="229.56" cy="1340.55" rx="3.9" ry="3"/>
<ellipse cx="182.98" cy="1339.88" rx="3.9" ry="3"/>
<ellipse cx="206.64" cy="1343.18" rx="3.9" ry="3"/>
<ellipse cx="212.22" cy="1342.96" rx="3.9" ry="3"/>
<ellipse cx="200.16" cy="1342.33" rx="3.9" ry="3"/>
<ellipse cx="220.03" cy="1343.31" rx="3.9" ry="3"/>
<ellipse cx="192.52" cy="1343.3" rx="3.9" ry="3"/>
<ellipse cx="226.33" cy="1343.39" rx="3.9" ry="3"/>
<ellipse cx="186.51" cy="1343.43" rx="3.9" ry="3"/>
<ellipse cx="233.48" cy="1342.34" rx="3.9" ry="3"/>
<ellipse cx="179.32" cy="1343.38" rx="3.9" ry="3"/>
<ellipse cx="209.4" cy="1345.93" rx="3.9" ry="3"/>
<ellipse cx="203.49" cy="1345.71" rx="3.9" ry="3"/>
<ellipse cx="216.23" cy="1345.7" rx="3.9" ry="3"/>
<ellipse cx="196.44" cy="1346.15" rx="3.9" ry="3"/>
<ellipse cx="222.7" cy="1345.8" rx="3.9" ry="3"/>
<ellipse cx="190.64" cy="1345.24" rx="3.9" ry="3"/>
<ellipse cx="229.84" cy="1346.38" rx="3.9" ry="3"/>
<ellipse cx="183.12" cy="1345.56" rx="3.9" ry="3"/>
<ellipse cx="206.08" cy="1348.4" rx="3.9" ry="3"/>
<ellipse cx="213.07" cy="1349.22" rx="3.9" ry="3"/>
<ellipse cx="199.2" cy="1348.62" rx="3.9" ry="3"/>
<ellipse cx="219.47" cy="1349.43" rx="3.9" ry="3"/>
<ellipse cx="193.28" cy="1349.47" rx="3.9" ry="3"/>
<ellipse cx="209.57" cy="1352.04" rx="3.9" ry="3"/>
<ellipse cx="204.07" cy="1351.72" rx="3.9" ry="3"/>
<ellipse cx="215.95" cy="1351.19" rx="3.9" ry="3"/>
<ellipse cx="196.76" cy="1351.31" rx="3.9" ry="3"/>
<ellipse cx="223.71" cy="1352.34" rx="3.9" ry="3"/>
<ellipse cx="189.47" cy="1351.45" rx="3.9" ry="3"/>
<ellipse cx="206.88" cy="1355.19" rx="3.9" ry="3"/>
<ellipse cx="212.89" cy="1354.11" rx="3.9" ry="3"/>
<ellipse cx="199.58" cy="1355.17" rx="3.9" ry="3"/>
<ellipse cx="219.34" cy="1354.45" rx="3.9" ry="3"/>
<ellipse cx="193.23" cy="1354.57" rx="3.9" ry="3"/>
<ellipse cx="226.22" cy="1355.37" rx="3.9" ry="3"/>
<ellipse cx="186.11" cy="1353.91" rx="3.9" ry="3"/>
<ellipse cx="210.66" cy="1358.38" rx="3.9" ry="3"/>
<ellipse cx="203.17" cy="1358.32" rx="3.9" ry="3"/>
<ellipse cx="217.35" cy="1357.16" rx="3.9" ry="3"/>
<ellipse cx="197.19" cy="1358.14" rx="3.9" ry="3"/>
<ellipse cx="223.43" cy="1357.63" rx="3.9" ry="3"/>
<ellipse cx="189.68" cy="1357.35" rx="3.9" ry="3"/>
<ellipse cx="205.74" cy="1360.64" rx="3.9" ry="3"/>
<ellipse cx="212.77" cy="1361" rx="3.9" ry="3"/>
<ellipse cx="199.09" cy="1361.15" rx="3.9" ry="3"/>
<ellipse cx="210.75" cy="1364.03" rx="3.9" ry="3"/>
<ellipse cx="204.1" cy="1363.52" rx="3.9" ry="3"/>
<ellipse cx="215.53" cy="1363.79" rx="3.9" ry="3"/>
<ellipse cx="196.04" cy="1363.08" rx="3.9" ry="3"/>
<ellipse cx="206.65" cy="1366.16" rx="3.9" ry="3"/>
<ellipse cx="214.08" cy="1366.48" rx="3.9" ry="3"/>
<ellipse cx="199.68" cy="1365.9" rx="3.9" ry="3"/>
<ellipse cx="209.85" cy="1369.65" rx="3.9" ry="3"/>
<ellipse cx="203" cy="1368.72" rx="3.9" ry="3"/>
<ellipse cx="216.57" cy="1369.71" rx="3.9" ry="3"/>
<ellipse cx="196.04" cy="1369.67" rx="3.9" ry="3"/>
<ellipse cx="207.21" cy="1372.62" rx="3.9" ry="3"/>
<ellipse cx="212.22" cy="1372.31" rx="3.9" ry="3"/>
<ellipse cx="200.73" cy="1371.38" rx="3.9" ry="3"/>
<ellipse cx="209.44" cy="1374.63" rx="3.9" ry="3"/>
<ellipse cx="203.35" cy="1374.88" rx="3.9" ry="3"/>
<ellipse cx="206.55" cy="1378.34" rx="3.9" ry="3"/>
<ellipse cx="206.5" cy="1118.3" rx="3.9" ry="3"/>
<ellipse cx="206.6" cy="1257.5" rx="3.9" ry="3"/>
<ellipse cx="206.6" cy="1274.6" rx="3.9" ry="3"/>
<ellipse cx="206.6" cy="1296.4" rx="3.9" ry="3"/>
<ellipse cx="207.8" cy="1387.3" rx="3.9" ry="3"/>
<ellipse cx="205.2" cy="1393.4" rx="3.9" ry="3"/>
<rect x="287.07" y="1287.79" width="9" height="6.8"/>
<rect x="287.07" y="1294.38" width="9" height="6.8"/>
<rect x="287.07" y="1307.56" width="9" height="6.8"/>
<rect x="268.62" y="1321.56" width="9" height="6.8"/>
<rect x="280.98" y="1321.56" width="9" height="6.8"/>
<rect x="293.33" y="1321.56" width="9" height="6.8"/>
<rect x="262.86" y="1325.35" width="9" height="6.8"/>
<rect x="306.51" y="1324.03" width="9" height="6.8"/>
<rect x="311.46" y="1324.36" width="9" height="6.8"/>
<rect x="275.21" y="1327.32" width="9" height="6.8"/>
<rect x="287.07" y="1327.65" width="9" height="6.8"/>
<rect x="299.92" y="1327.32" width="9" height="6.8"/>
<rect x="280.98" y="1331.44" width="9" height="6.8"/>
<rect x="294.16" y="1331.94" width="9" height="6.8"/>
<rect x="275.21" y="1334.24" width="9" height="6.8"/>
<rect x="287.07" y="1334.24" width="9" height="6.8"/>
<rect x="299.92" y="1333.91" width="9" height="6.8"/>
<rect x="268.62" y="1339.19" width="9" height="6.8"/>
<rect x="306.51" y="1338.86" width="9" height="6.8"/>
<rect x="311.46" y="1338.53" width="9" height="6.8"/>
<rect x="262.86" y="1341.33" width="9" height="6.8"/>
<rect x="275.21" y="1341.33" width="9" height="6.8"/>
<rect x="287.07" y="1341.33" width="9" height="6.8"/>
<rect x="299.92" y="1341.82" width="9" height="6.8"/>
<rect x="275.21" y="1345.45" width="9" height="6.8"/>
<rect x="293.33" y="1345.45" width="9" height="6.8"/>
<rect x="287.07" y="1350.39" width="9" height="6.8"/>
<rect x="306.51" y="1350.72" width="9" height="6.8"/>
<rect x="268.62" y="1354.01" width="9" height="6.8"/>
<rect x="275.21" y="1353.68" width="9" height="6.8"/>
<rect x="299.92" y="1354.01" width="9" height="6.8"/>
<rect x="287.07" y="1356.16" width="9" height="6.8"/>
<rect x="280.98" y="1360.27" width="9" height="6.8"/>
<rect x="299.92" y="1365.22" width="9" height="6.8"/>
<rect x="280.98" y="1369.33" width="9" height="6.8"/>
<rect x="291.69" y="1369.33" width="9" height="6.8"/>
<rect x="280.98" y="1376.75" width="9" height="6.8"/>
<rect x="264" y="1342.5" width="55" height="3.4"/>
<path d="M376.6 1257.8L380.4 1263.6L372.8 1263.6Z"/>
<path d="M376.6 1271L380.4 1276.8L372.8 1276.8Z"/>
<path d="M376.6 1306.4L380.4 1312.2L372.8 1312.2Z"/>
<path d="M376.6 1313.8L380.4 1319.6L372.8 1319.6Z"/>
<path d="M359.1 1315.7L362.9 1321.5L355.3 1321.5Z"/>
<path d="M393.7 1316.1L397.5 1321.9L389.9 1321.9Z"/>
<path d="M376.6 1329.5L380.4 1335.3L372.8 1335.3Z"/>
<path d="M393.7 1332.4L397.5 1338.2L389.9 1338.2Z"/>
<path d="M376.6 1337.7L380.4 1343.5L372.8 1343.5Z"/>
<path d="M359.6 1342.7L363.4 1348.5L355.8 1348.5Z"/>
<path d="M393.7 1341.5L397.5 1347.3L389.9 1347.3Z"/>
<rect x="348" y="1317.5" width="57" height="3.4"/>
<rect x="664.7" y="1047.85" width="5.2" height="372"/>
<rect x="648.8" y="1415.75" width="318.5" height="4.1"/>
<rect x="648.2" y="1047.85" width="17.5" height="3.3"/>
<text transform="translate(643.9,1060.5) scale(1.04,1)" font-size="31.2" font-weight="700" stroke-width="0.35" text-anchor="end">10</text>
<rect x="648.2" y="1121.51" width="17.5" height="3.3"/>
<text transform="translate(643.9,1134.16) scale(1.04,1)" font-size="31.2" font-weight="700" stroke-width="0.35" text-anchor="end">8</text>
<rect x="648.2" y="1195.17" width="17.5" height="3.3"/>
<text transform="translate(643.9,1207.82) scale(1.04,1)" font-size="31.2" font-weight="700" stroke-width="0.35" text-anchor="end">6</text>
<rect x="648.2" y="1268.83" width="17.5" height="3.3"/>
<text transform="translate(643.9,1281.48) scale(1.04,1)" font-size="31.2" font-weight="700" stroke-width="0.35" text-anchor="end">4</text>
<rect x="648.2" y="1342.49" width="17.5" height="3.3"/>
<text transform="translate(643.9,1355.14) scale(1.04,1)" font-size="31.2" font-weight="700" stroke-width="0.35" text-anchor="end">2</text>
<text transform="translate(643.9,1428.8) scale(1.04,1)" font-size="31.2" font-weight="700" stroke-width="0.35" text-anchor="end">0</text>
<rect x="724.25" y="1417.8" width="4.9" height="16"/>
<text transform="translate(730.7,1465.1) scale(1.19,1) rotate(-45)" font-size="28.6" font-weight="700" stroke-width="0.35" text-anchor="end">TAM</text>
<rect x="813.55" y="1417.8" width="4.9" height="16"/>
<text transform="translate(826.4,1461.2) scale(1.19,1) rotate(-45)" font-size="28.6" font-weight="700" stroke-width="0.35" text-anchor="end">TAM+OFS</text>
<rect x="903.35" y="1417.8" width="4.9" height="16"/>
<text transform="translate(916.2,1462.7) scale(1.19,1) rotate(-45)" font-size="28.6" font-weight="700" stroke-width="0.35" text-anchor="end">AI+OFS</text>
<text transform="translate(539.8,1235.4) scale(1.14,1) rotate(-90)" font-size="31.2" font-weight="700" stroke-width="0.35" text-anchor="middle">LDL-C level, mmol/L</text>
<text transform="translate(816.9,1596.2) scale(1.09,1)" font-size="34" font-weight="700" stroke-width="0.35" text-anchor="middle">24 months</text>
<path d="M712 900.2 V881.3 Q712 878.7 714.6 878.7 H918.4 Q921 878.7 921 881.3 V900.2 H914.8 V883.9 H718.2 V900.2 Z"/>
<text transform="translate(816.5,865.2) scale(1.18,1)" font-size="30.6" stroke-width="0.6" text-anchor="middle">P=0.001</text>
<path d="M810.3 972.1 V952.9 Q810.3 950.3 812.9 950.3 H925.7 Q928.3 950.3 928.3 952.9 V972.1 H922.1 V955.5 H816.5 V972.1 Z"/>
<text transform="translate(869.3,936.5) scale(1.18,1)" font-size="30.6" stroke-width="0.6" text-anchor="middle">P=0.003</text>
<path d="M719 1043.8 V1025.1 Q719 1022.5 721.6 1022.5 H818 Q820.6 1022.5 820.6 1025.1 V1043.8 H814.4 V1027.7 H725.2 V1043.8 Z"/>
<text transform="translate(769.8,1008.7) scale(1.18,1)" font-size="30.6" stroke-width="0.6" text-anchor="middle">P=0.83</text>
<ellipse cx="726.11" cy="1304.23" rx="3.9" ry="3"/>
<ellipse cx="732.81" cy="1303.71" rx="3.9" ry="3"/>
<ellipse cx="720.1" cy="1305.07" rx="3.9" ry="3"/>
<ellipse cx="730.73" cy="1306.86" rx="3.9" ry="3"/>
<ellipse cx="723.67" cy="1306.94" rx="3.9" ry="3"/>
<ellipse cx="736.15" cy="1306.67" rx="3.9" ry="3"/>
<ellipse cx="716.43" cy="1307.98" rx="3.9" ry="3"/>
<ellipse cx="727.51" cy="1310.68" rx="3.9" ry="3"/>
<ellipse cx="732.89" cy="1309.9" rx="3.9" ry="3"/>
<ellipse cx="720.55" cy="1310.57" rx="3.9" ry="3"/>
<ellipse cx="730.96" cy="1312.44" rx="3.9" ry="3"/>
<ellipse cx="723.81" cy="1313.37" rx="3.9" ry="3"/>
<ellipse cx="736.81" cy="1312.58" rx="3.9" ry="3"/>
<ellipse cx="716.95" cy="1312.44" rx="3.9" ry="3"/>
<ellipse cx="727.63" cy="1316.08" rx="3.9" ry="3"/>
<ellipse cx="733.1" cy="1316.65" rx="3.9" ry="3"/>
<ellipse cx="720.44" cy="1316.61" rx="3.9" ry="3"/>
<ellipse cx="730.22" cy="1318.76" rx="3.9" ry="3"/>
<ellipse cx="723.8" cy="1318.79" rx="3.9" ry="3"/>
<ellipse cx="736.12" cy="1318.59" rx="3.9" ry="3"/>
<ellipse cx="717.63" cy="1318.17" rx="3.9" ry="3"/>
<ellipse cx="727.15" cy="1321.45" rx="3.9" ry="3"/>
<ellipse cx="733.57" cy="1321.75" rx="3.9" ry="3"/>
<ellipse cx="719.99" cy="1322.6" rx="3.9" ry="3"/>
<ellipse cx="730.03" cy="1324.22" rx="3.9" ry="3"/>
<ellipse cx="723.87" cy="1324.34" rx="3.9" ry="3"/>
<ellipse cx="736.51" cy="1325.1" rx="3.9" ry="3"/>
<ellipse cx="716.64" cy="1324.79" rx="3.9" ry="3"/>
<ellipse cx="726.1" cy="1326.9" rx="3.9" ry="3"/>
<ellipse cx="732.96" cy="1328.02" rx="3.9" ry="3"/>
<ellipse cx="720.53" cy="1327.18" rx="3.9" ry="3"/>
<ellipse cx="739.76" cy="1327.08" rx="3.9" ry="3"/>
<ellipse cx="713.62" cy="1326.87" rx="3.9" ry="3"/>
<ellipse cx="730.99" cy="1331.23" rx="3.9" ry="3"/>
<ellipse cx="724.07" cy="1331.24" rx="3.9" ry="3"/>
<ellipse cx="735.84" cy="1330.16" rx="3.9" ry="3"/>
<ellipse cx="717.93" cy="1330.94" rx="3.9" ry="3"/>
<ellipse cx="743.22" cy="1331.21" rx="3.9" ry="3"/>
<ellipse cx="710.64" cy="1331.01" rx="3.9" ry="3"/>
<ellipse cx="726.28" cy="1333.31" rx="3.9" ry="3"/>
<ellipse cx="732.77" cy="1333.21" rx="3.9" ry="3"/>
<ellipse cx="721.22" cy="1333.13" rx="3.9" ry="3"/>
<ellipse cx="739.12" cy="1332.67" rx="3.9" ry="3"/>
<ellipse cx="713.04" cy="1333.85" rx="3.9" ry="3"/>
<ellipse cx="729.78" cy="1335.66" rx="3.9" ry="3"/>
<ellipse cx="724.56" cy="1336.18" rx="3.9" ry="3"/>
<ellipse cx="736.22" cy="1335.59" rx="3.9" ry="3"/>
<ellipse cx="716.11" cy="1335.77" rx="3.9" ry="3"/>
<ellipse cx="743.75" cy="1335.74" rx="3.9" ry="3"/>
<ellipse cx="709.48" cy="1336.29" rx="3.9" ry="3"/>
<ellipse cx="749.5" cy="1337.1" rx="3.9" ry="3"/>
<ellipse cx="703.04" cy="1336.35" rx="3.9" ry="3"/>
<ellipse cx="726.72" cy="1339.98" rx="3.9" ry="3"/>
<ellipse cx="733.46" cy="1338.79" rx="3.9" ry="3"/>
<ellipse cx="720.12" cy="1338.46" rx="3.9" ry="3"/>
<ellipse cx="739.94" cy="1338.8" rx="3.9" ry="3"/>
<ellipse cx="714.48" cy="1339.73" rx="3.9" ry="3"/>
<ellipse cx="746.7" cy="1338.45" rx="3.9" ry="3"/>
<ellipse cx="706.61" cy="1338.79" rx="3.9" ry="3"/>
<ellipse cx="752.72" cy="1338.77" rx="3.9" ry="3"/>
<ellipse cx="701.24" cy="1338.63" rx="3.9" ry="3"/>
<ellipse cx="731.06" cy="1342.2" rx="3.9" ry="3"/>
<ellipse cx="724.58" cy="1341.94" rx="3.9" ry="3"/>
<ellipse cx="737.6" cy="1342.35" rx="3.9" ry="3"/>
<ellipse cx="717.58" cy="1342.49" rx="3.9" ry="3"/>
<ellipse cx="743.39" cy="1341.45" rx="3.9" ry="3"/>
<ellipse cx="709.82" cy="1342.7" rx="3.9" ry="3"/>
<ellipse cx="750.8" cy="1342.78" rx="3.9" ry="3"/>
<ellipse cx="703.47" cy="1342.35" rx="3.9" ry="3"/>
<ellipse cx="727.18" cy="1345.5" rx="3.9" ry="3"/>
<ellipse cx="733.56" cy="1345.25" rx="3.9" ry="3"/>
<ellipse cx="720.67" cy="1344.63" rx="3.9" ry="3"/>
<ellipse cx="740.95" cy="1345.73" rx="3.9" ry="3"/>
<ellipse cx="712.85" cy="1345.75" rx="3.9" ry="3"/>
<ellipse cx="747.62" cy="1345.27" rx="3.9" ry="3"/>
<ellipse cx="706.19" cy="1345.64" rx="3.9" ry="3"/>
<ellipse cx="752.56" cy="1345.75" rx="3.9" ry="3"/>
<ellipse cx="700.83" cy="1344.3" rx="3.9" ry="3"/>
<ellipse cx="730.47" cy="1348.01" rx="3.9" ry="3"/>
<ellipse cx="724.09" cy="1348.58" rx="3.9" ry="3"/>
<ellipse cx="736.24" cy="1347.11" rx="3.9" ry="3"/>
<ellipse cx="717.84" cy="1347.12" rx="3.9" ry="3"/>
<ellipse cx="744.15" cy="1347.29" rx="3.9" ry="3"/>
<ellipse cx="711.02" cy="1348.35" rx="3.9" ry="3"/>
<ellipse cx="750.76" cy="1347.98" rx="3.9" ry="3"/>
<ellipse cx="704.56" cy="1347.42" rx="3.9" ry="3"/>
<ellipse cx="726.56" cy="1351.43" rx="3.9" ry="3"/>
<ellipse cx="734.05" cy="1350.75" rx="3.9" ry="3"/>
<ellipse cx="720.35" cy="1350.04" rx="3.9" ry="3"/>
<ellipse cx="739.17" cy="1350.95" rx="3.9" ry="3"/>
<ellipse cx="713.68" cy="1351.38" rx="3.9" ry="3"/>
<ellipse cx="746.92" cy="1350.22" rx="3.9" ry="3"/>
<ellipse cx="706.83" cy="1351.23" rx="3.9" ry="3"/>
<ellipse cx="729.22" cy="1354.24" rx="3.9" ry="3"/>
<ellipse cx="724.26" cy="1353.04" rx="3.9" ry="3"/>
<ellipse cx="736.89" cy="1353.51" rx="3.9" ry="3"/>
<ellipse cx="717.57" cy="1353.4" rx="3.9" ry="3"/>
<ellipse cx="742.87" cy="1353.68" rx="3.9" ry="3"/>
<ellipse cx="711.33" cy="1353.05" rx="3.9" ry="3"/>
<ellipse cx="727.14" cy="1357.22" rx="3.9" ry="3"/>
<ellipse cx="733.52" cy="1356.49" rx="3.9" ry="3"/>
<ellipse cx="721.02" cy="1357.04" rx="3.9" ry="3"/>
<ellipse cx="739.23" cy="1357.21" rx="3.9" ry="3"/>
<ellipse cx="713.09" cy="1356.28" rx="3.9" ry="3"/>
<ellipse cx="730.04" cy="1359.98" rx="3.9" ry="3"/>
<ellipse cx="722.93" cy="1360.1" rx="3.9" ry="3"/>
<ellipse cx="736.15" cy="1358.94" rx="3.9" ry="3"/>
<ellipse cx="716.99" cy="1359.24" rx="3.9" ry="3"/>
<ellipse cx="743.48" cy="1360.15" rx="3.9" ry="3"/>
<ellipse cx="710.82" cy="1358.71" rx="3.9" ry="3"/>
<ellipse cx="726.99" cy="1362.38" rx="3.9" ry="3"/>
<ellipse cx="733.93" cy="1362.37" rx="3.9" ry="3"/>
<ellipse cx="719.45" cy="1361.99" rx="3.9" ry="3"/>
<ellipse cx="729.91" cy="1365.73" rx="3.9" ry="3"/>
<ellipse cx="724.57" cy="1365.5" rx="3.9" ry="3"/>
<ellipse cx="737.15" cy="1365.48" rx="3.9" ry="3"/>
<ellipse cx="716.63" cy="1365.96" rx="3.9" ry="3"/>
<ellipse cx="727.72" cy="1367.89" rx="3.9" ry="3"/>
<ellipse cx="734.24" cy="1368.66" rx="3.9" ry="3"/>
<ellipse cx="720.53" cy="1368.11" rx="3.9" ry="3"/>
<ellipse cx="730.74" cy="1370.88" rx="3.9" ry="3"/>
<ellipse cx="723.92" cy="1370.51" rx="3.9" ry="3"/>
<ellipse cx="735.97" cy="1370.53" rx="3.9" ry="3"/>
<ellipse cx="717.62" cy="1370.58" rx="3.9" ry="3"/>
<ellipse cx="726.64" cy="1374.12" rx="3.9" ry="3"/>
<ellipse cx="733.2" cy="1374.19" rx="3.9" ry="3"/>
<ellipse cx="719.49" cy="1373.84" rx="3.9" ry="3"/>
<ellipse cx="740.97" cy="1373.49" rx="3.9" ry="3"/>
<ellipse cx="714.01" cy="1373.72" rx="3.9" ry="3"/>
<ellipse cx="727" cy="1105.8" rx="3.9" ry="3"/>
<ellipse cx="726.8" cy="1268.7" rx="3.9" ry="3"/>
<ellipse cx="722.2" cy="1290.8" rx="3.9" ry="3"/>
<ellipse cx="732" cy="1290.8" rx="3.9" ry="3"/>
<ellipse cx="727.3" cy="1295.9" rx="3.9" ry="3"/>
<ellipse cx="721.7" cy="1301.1" rx="3.9" ry="3"/>
<ellipse cx="727.3" cy="1385" rx="3.9" ry="3"/>
<ellipse cx="725.3" cy="1389.6" rx="3.9" ry="3"/>
<rect x="720.5" y="1351" width="4.5" height="2.6" rx="1.2" fill="#fff"/>
<rect x="707" y="1345.5" width="3" height="2.3" rx="1.2" fill="#fff"/>
<rect x="712" y="1347.5" width="3" height="2" rx="1.2" fill="#fff"/>
<rect x="740" y="1343.5" width="3" height="2.3" rx="1.2" fill="#fff"/>
<rect x="728" y="1366" width="3" height="2.3" rx="1.2" fill="#fff"/>
<rect x="727" y="1310" width="2.5" height="2.2" rx="1.2" fill="#fff"/>
<rect x="722.5" y="1318.5" width="2.5" height="2.1" rx="1.2" fill="#fff"/>
<rect x="811.74" y="1260.17" width="9" height="7.21"/>
<rect x="818.33" y="1271.7" width="9" height="7.21"/>
<rect x="811.74" y="1278.78" width="9" height="7.21"/>
<rect x="800.21" y="1322.77" width="9" height="7.21"/>
<rect x="824.92" y="1322.77" width="9" height="7.21"/>
<rect x="808.45" y="1298.88" width="9" height="7.21"/>
<rect x="815.86" y="1302.18" width="9" height="7.21"/>
<rect x="800.21" y="1310.42" width="9" height="7.21"/>
<rect x="824.92" y="1310.42" width="9" height="7.21"/>
<rect x="811.74" y="1313.71" width="9" height="7.21"/>
<rect x="800.21" y="1317.83" width="9" height="7.21"/>
<rect x="824.92" y="1317.83" width="9" height="7.21"/>
<rect x="818.33" y="1321.12" width="9" height="7.21"/>
<rect x="811.74" y="1325.24" width="9" height="7.21"/>
<rect x="805.15" y="1326.07" width="9" height="7.21"/>
<rect x="800.21" y="1327.22" width="9" height="7.21"/>
<rect x="824.92" y="1327.22" width="9" height="7.21"/>
<rect x="805.98" y="1330.19" width="9" height="7.21"/>
<rect x="815.04" y="1330.19" width="9" height="7.21"/>
<rect x="786.21" y="1343.36" width="9" height="7.21"/>
<rect x="818.33" y="1343.69" width="9" height="7.21"/>
<rect x="800.21" y="1345.34" width="9" height="7.21"/>
<rect x="831.51" y="1345.01" width="9" height="7.21"/>
<rect x="811.74" y="1347.48" width="9" height="7.21"/>
<rect x="824.92" y="1347.98" width="9" height="7.21"/>
<rect x="837.28" y="1349.13" width="9" height="7.21"/>
<rect x="792.8" y="1350.78" width="9" height="7.21"/>
<rect x="818.33" y="1354.07" width="9" height="7.21"/>
<rect x="824.92" y="1354.07" width="9" height="7.21"/>
<rect x="805.98" y="1356.54" width="9" height="7.21"/>
<rect x="811.74" y="1359.84" width="9" height="7.21"/>
<rect x="805.98" y="1364.78" width="9" height="7.21"/>
<rect x="818.33" y="1364.78" width="9" height="7.21"/>
<rect x="811.74" y="1367.58" width="9" height="7.21"/>
<rect x="799.39" y="1369.72" width="9" height="7.21"/>
<rect x="824.92" y="1372.2" width="9" height="7.21"/>
<rect x="786.6" y="1334.6" width="59.4" height="3.4"/>
<path d="M906 1238.3L909.8 1244.1L902.2 1244.1Z"/>
<path d="M906 1269.6L909.8 1275.4L902.2 1275.4Z"/>
<path d="M906 1284.3L909.8 1290.1L902.2 1290.1Z"/>
<path d="M899.4 1307.5L903.2 1313.3L895.6 1313.3Z"/>
<path d="M912.3 1307.5L916.1 1313.3L908.5 1313.3Z"/>
<path d="M880.2 1325.6L884 1331.4L876.4 1331.4Z"/>
<path d="M893.2 1323.1L897 1328.9L889.4 1328.9Z"/>
<path d="M906 1324.3L909.8 1330.1L902.2 1330.1Z"/>
<path d="M918.9 1323.1L922.7 1328.9L915.1 1328.9Z"/>
<path d="M931.6 1329.6L935.4 1335.4L927.8 1335.4Z"/>
<path d="M931.6 1320.1L935.4 1325.9L927.8 1325.9Z"/>
<rect x="876.4" y="1321.3" width="59.3" height="3.4"/>
</svg>
</body>
</html>
